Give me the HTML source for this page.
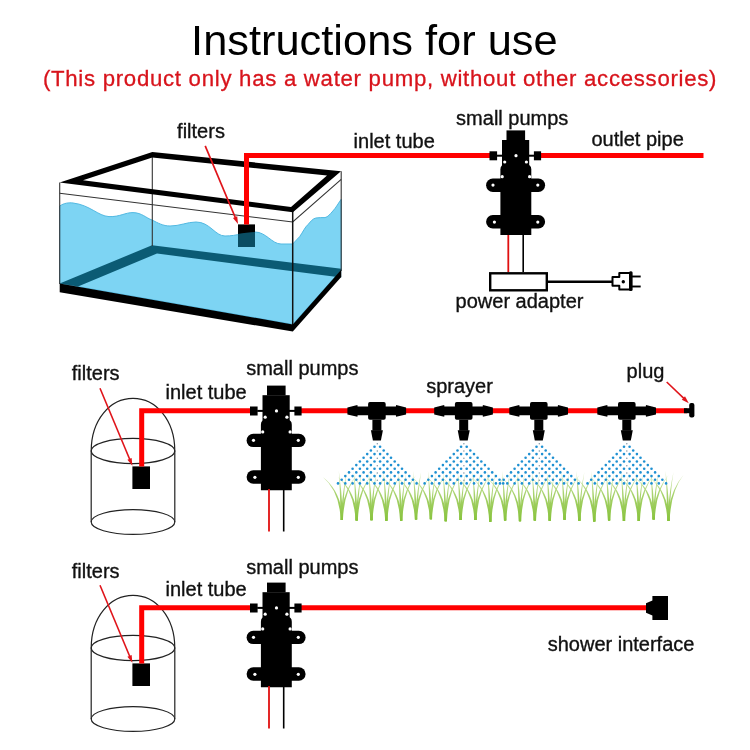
<!DOCTYPE html>
<html><head><meta charset="utf-8"><style>
html,body{margin:0;padding:0;background:#fff;width:750px;height:750px;overflow:hidden;position:relative}
</style></head><body>
<svg width="750" height="750" viewBox="0 0 750 750" style="position:absolute;left:0;top:0">
<defs><linearGradient id="gg" x1="0" y1="470" x2="0" y2="522" gradientUnits="userSpaceOnUse"><stop offset="0" stop-color="#dcecc2"/><stop offset="0.45" stop-color="#a9d36f"/><stop offset="1" stop-color="#86c23a"/></linearGradient></defs>
<path d="M59.7,206 C64,203 69,202.5 73,203 C90,205 98,216 109,216.6 C120,217 125,212.5 133,212.6 C142,212.8 146,218 152,220 C158,223 163,226 170,226 C180,226 187,222 196,222 C210,222 215,236 225,236 C238,236 244,232 255,232 C266,232 272,244 281,244 L292.7,244 L299.6,236.7 C303,232 305,227 308,224.6 C311,221 313,218.5 316,218 C319,217.5 322,217.6 325,217.6 C328,217 330,214 332,212 C336,208 339,202 341.2,199.3 L341.2,270 L292.8,324.4 L59.7,283.4 Z" fill="#7dd4f3" stroke="#52b9e2" stroke-width="1"/>
<path d="M59.7,283.4 L152,245.3 L341.2,268.8 L341.2,277.5 L157,253.5 L78,286.4 Z" fill="#0b5b74"/>
<rect x="238" y="224.4" width="17" height="22.6" fill="#000"/>
<path d="M238,234 C243,233 250,232 255,232 L255,247 L238,247 Z" fill="#0a4d63"/>
<g stroke="#333" stroke-width="1.1" fill="none">
<line x1="59.7" y1="182.5" x2="59.7" y2="284"/>
<line x1="152.3" y1="155" x2="152.3" y2="246"/>
<line x1="341.2" y1="171.3" x2="341.2" y2="271"/>
<polyline points="59.7,193.2 292.7,222 341.2,179.3"/>
</g>
<line x1="292.7" y1="209" x2="292.7" y2="325" stroke="#111" stroke-width="1.5"/>
<path d="M59.7,283.4 L292.8,324.4 L341.2,269.8 L341.2,277 L292.8,331.6 L59.7,292.2 Z" fill="#000"/>
<path fill-rule="evenodd" d="M59.7,182.6 L152.3,152 L341,171.3 L292.9,212.2 Z M83,180.3 L152.3,157.5 L327,175.5 L291,207 Z" fill="#000"/>
<path d="M246.5,224.4 L246.5,155.5 L490,155.5 M540,155.5 L703.5,155.5" stroke="#ff0000" stroke-width="5" fill="none"/>
<line x1="205.2" y1="145.8" x2="235.49" y2="218.01" stroke="#e0141a" stroke-width="1.7"/><path d="M238,224 L232.98,217.97 L237.22,216.19 Z" fill="#e0141a"/>
<g transform="translate(515.7,155.5)"><rect x="-9.2" y="-25.1" width="18.6" height="9.8" fill="#000"/><rect x="-13.7" y="-15.5" width="27.2" height="26" fill="#000"/><path d="M-15.3,79.6 L-15.3,14 Q-15.3,9 -10.3,9 L10.6,9 Q15.6,9 15.6,14 L15.6,79.6 Z" fill="#000"/><rect x="-29.6" y="23" width="59" height="13.4" rx="6.7" fill="#000"/><rect x="-29.6" y="59.6" width="59" height="13.4" rx="6.7" fill="#000"/><rect x="-26.2" y="-4.2" width="7.6" height="9" fill="#000"/><rect x="18.2" y="-4.2" width="7.2" height="9" fill="#000"/><rect x="-19" y="-0.8" width="38" height="2" fill="#000"/><circle cx="0.3" cy="0.2" r="1.6" fill="#fff"/><circle cx="-11" cy="6.5" r="1.6" fill="#fff"/><circle cx="10.7" cy="6.5" r="1.6" fill="#fff"/><circle cx="-13.5" cy="21.2" r="1.6" fill="#fff"/><circle cx="13.9" cy="21.2" r="1.6" fill="#fff"/><circle cx="-22.7" cy="29.6" r="1.6" fill="#fff"/><circle cx="22.1" cy="29.6" r="1.6" fill="#fff"/><circle cx="-21.3" cy="66.6" r="1.6" fill="#fff"/><circle cx="22.1" cy="66.6" r="1.6" fill="#fff"/></g>
<line x1="508.3" y1="235" x2="508.3" y2="272" stroke="#e01010" stroke-width="1.8"/>
<line x1="523.2" y1="235" x2="523.2" y2="272" stroke="#000" stroke-width="1.6"/>
<rect x="490.2" y="273.3" width="56.6" height="17" fill="#fff" stroke="#000" stroke-width="2.4"/>
<line x1="547" y1="281.8" x2="612.5" y2="281.8" stroke="#000" stroke-width="2.6"/>
<path d="M612.5,277 L619.3,277 L619.3,273 L630,273 L630,289.4 L619.3,289.4 L619.3,285.8 L612.5,285.8 Z" fill="#fff" stroke="#000" stroke-width="2" stroke-linejoin="round"/>
<rect x="629" y="271.3" width="3.6" height="19.7" rx="1.5" fill="#000"/>
<line x1="632" y1="276.5" x2="640.7" y2="276.5" stroke="#000" stroke-width="1.9"/>
<line x1="632" y1="286.5" x2="640.7" y2="286.5" stroke="#000" stroke-width="1.9"/>
<circle cx="623.3" cy="281.7" r="1.7" fill="#000"/>
<g transform="translate(0,0)"><g stroke="#222" stroke-width="1.2" fill="none"><path d="M91.2,451 L91.2,522 M174.8,451 L174.8,522"/><path d="M91.2,451 C91.2,420 110,398.4 133,398.4 C156,398.4 174.8,420 174.8,451"/><ellipse cx="133" cy="451" rx="41.8" ry="12.6"/><ellipse cx="133" cy="522" rx="41.8" ry="12.4"/></g><rect x="132.4" y="466.4" width="17.6" height="22.6" fill="#000"/><path d="M141.7,466.4 L141.7,410.7 L251,410.7" stroke="#ff0000" stroke-width="5" fill="none"/><line x1="100" y1="388.3" x2="129.89" y2="459.80" stroke="#e0141a" stroke-width="1.6"/><path d="M132.4,465.8 L127.39,459.77 L131.63,457.99 Z" fill="#e0141a"/></g>
<g transform="translate(0,197)"><g stroke="#222" stroke-width="1.2" fill="none"><path d="M91.2,451 L91.2,522 M174.8,451 L174.8,522"/><path d="M91.2,451 C91.2,420 110,398.4 133,398.4 C156,398.4 174.8,420 174.8,451"/><ellipse cx="133" cy="451" rx="41.8" ry="12.6"/><ellipse cx="133" cy="522" rx="41.8" ry="12.4"/></g><rect x="132.4" y="466.4" width="17.6" height="22.6" fill="#000"/><path d="M141.7,466.4 L141.7,410.7 L251,410.7" stroke="#ff0000" stroke-width="5" fill="none"/><line x1="100" y1="388.3" x2="129.89" y2="459.80" stroke="#e0141a" stroke-width="1.6"/><path d="M132.4,465.8 L127.39,459.77 L131.63,457.99 Z" fill="#e0141a"/></g>
<line x1="301" y1="410.7" x2="687" y2="410.7" stroke="#ff0000" stroke-width="5"/>
<line x1="301" y1="607.7" x2="650" y2="607.7" stroke="#ff0000" stroke-width="5"/>
<g fill="url(#gg)"><path d="M340.7,519.9 Q339.4,491 322.8,477 Q341.2,491 342.9,519.9 Z"/><path d="M340.6,519.9 Q340.3,496 338.8,470.5 Q342.3,496 343.0,519.9 Z"/><path d="M340.7,519.9 Q342.4,491 356.8,475 Q344.2,491 342.9,519.9 Z"/><path d="M340.9,519.9 Q341.9,494 346.8,472 Q343.3,494 342.7,519.9 Z"/><path d="M355.5,520.6 Q354.2,491 337.7,477 Q356.1,491 357.8,520.6 Z"/><path d="M355.5,520.6 Q355.2,496 353.7,470.5 Q357.1,496 357.9,520.6 Z"/><path d="M355.5,520.6 Q357.2,491 371.7,475 Q359.1,491 357.8,520.6 Z"/><path d="M355.8,520.6 Q356.7,494 361.7,472 Q358.2,494 357.6,520.6 Z"/><path d="M370.4,520.2 Q369.1,491 352.5,477 Q370.9,491 372.6,520.2 Z"/><path d="M370.3,520.2 Q370.0,496 368.5,470.5 Q372.0,496 372.7,520.2 Z"/><path d="M370.4,520.2 Q372.1,491 386.5,475 Q373.9,491 372.6,520.2 Z"/><path d="M370.6,520.2 Q371.6,494 376.5,472 Q373.0,494 372.4,520.2 Z"/><path d="M385.2,520.7 Q383.9,491 367.4,477 Q385.8,491 387.5,520.7 Z"/><path d="M385.2,520.7 Q384.9,496 383.4,470.5 Q386.8,496 387.6,520.7 Z"/><path d="M385.2,520.7 Q386.9,491 401.4,475 Q388.8,491 387.5,520.7 Z"/><path d="M385.5,520.7 Q386.4,494 391.4,472 Q387.9,494 387.2,520.7 Z"/><path d="M400.1,520.8 Q398.8,491 382.2,477 Q400.6,491 402.3,520.8 Z"/><path d="M400.0,520.8 Q399.7,496 398.2,470.5 Q401.7,496 402.4,520.8 Z"/><path d="M400.1,520.8 Q401.8,491 416.2,475 Q403.6,491 402.3,520.8 Z"/><path d="M400.3,520.8 Q401.3,494 406.2,472 Q402.7,494 402.1,520.8 Z"/><path d="M414.9,519.5 Q413.6,491 397.1,477 Q415.5,491 417.2,519.5 Z"/><path d="M414.9,519.5 Q414.6,496 413.1,470.5 Q416.5,496 417.2,519.5 Z"/><path d="M414.9,519.5 Q416.6,491 431.1,475 Q418.5,491 417.2,519.5 Z"/><path d="M415.2,519.5 Q416.1,494 421.1,472 Q417.6,494 416.9,519.5 Z"/><path d="M429.8,519.3 Q428.5,491 411.9,477 Q430.3,491 432.0,519.3 Z"/><path d="M429.7,519.3 Q429.4,496 427.9,470.5 Q431.4,496 432.1,519.3 Z"/><path d="M429.8,519.3 Q431.5,491 445.9,475 Q433.3,491 432.0,519.3 Z"/><path d="M430.0,519.3 Q431.0,494 435.9,472 Q432.4,494 431.8,519.3 Z"/><path d="M444.6,521.3 Q443.3,491 426.8,477 Q445.2,491 446.9,521.3 Z"/><path d="M444.6,521.3 Q444.3,496 442.8,470.5 Q446.2,496 446.9,521.3 Z"/><path d="M444.6,521.3 Q446.3,491 460.8,475 Q448.2,491 446.9,521.3 Z"/><path d="M444.9,521.3 Q445.8,494 450.8,472 Q447.3,494 446.6,521.3 Z"/><path d="M459.5,519.9 Q458.2,491 441.6,477 Q460.0,491 461.8,519.9 Z"/><path d="M459.4,519.9 Q459.1,496 457.6,470.5 Q461.1,496 461.8,519.9 Z"/><path d="M459.5,519.9 Q461.2,491 475.6,475 Q463.0,491 461.8,519.9 Z"/><path d="M459.7,519.9 Q460.7,494 465.6,472 Q462.1,494 461.5,519.9 Z"/><path d="M474.3,519.9 Q473.0,491 456.5,477 Q474.9,491 476.6,519.9 Z"/><path d="M474.3,519.9 Q474.0,496 472.5,470.5 Q475.9,496 476.7,519.9 Z"/><path d="M474.3,519.9 Q476.0,491 490.5,475 Q477.9,491 476.6,519.9 Z"/><path d="M474.6,519.9 Q475.5,494 480.5,472 Q477.0,494 476.4,519.9 Z"/><path d="M489.2,521.7 Q487.9,491 471.3,477 Q489.7,491 491.4,521.7 Z"/><path d="M489.1,521.7 Q488.8,496 487.3,470.5 Q490.8,496 491.5,521.7 Z"/><path d="M489.2,521.7 Q490.9,491 505.3,475 Q492.7,491 491.4,521.7 Z"/><path d="M489.4,521.7 Q490.4,494 495.3,472 Q491.8,494 491.2,521.7 Z"/><path d="M504.0,520.4 Q502.7,491 486.1,477 Q504.6,491 506.3,520.4 Z"/><path d="M503.9,520.4 Q503.7,496 502.1,470.5 Q505.6,496 506.3,520.4 Z"/><path d="M504.0,520.4 Q505.7,491 520.1,475 Q507.6,491 506.3,520.4 Z"/><path d="M504.2,520.4 Q505.2,494 510.1,472 Q506.7,494 506.0,520.4 Z"/><path d="M518.9,521.3 Q517.6,491 501.0,477 Q519.4,491 521.1,521.3 Z"/><path d="M518.8,521.3 Q518.5,496 517.0,470.5 Q520.5,496 521.2,521.3 Z"/><path d="M518.9,521.3 Q520.6,491 535.0,475 Q522.4,491 521.1,521.3 Z"/><path d="M519.1,521.3 Q520.1,494 525.0,472 Q521.5,494 520.9,521.3 Z"/><path d="M533.7,520.4 Q532.4,491 515.9,477 Q534.3,491 536.0,520.4 Z"/><path d="M533.6,520.4 Q533.4,496 531.9,470.5 Q535.3,496 536.1,520.4 Z"/><path d="M533.7,520.4 Q535.4,491 549.9,475 Q537.3,491 536.0,520.4 Z"/><path d="M534.0,520.4 Q534.9,494 539.9,472 Q536.4,494 535.8,520.4 Z"/><path d="M548.6,520.8 Q547.3,491 530.7,477 Q549.1,491 550.9,520.8 Z"/><path d="M548.5,520.8 Q548.2,496 546.7,470.5 Q550.2,496 550.9,520.8 Z"/><path d="M548.6,520.8 Q550.3,491 564.7,475 Q552.1,491 550.9,520.8 Z"/><path d="M548.8,520.8 Q549.8,494 554.7,472 Q551.2,494 550.6,520.8 Z"/><path d="M563.4,519.7 Q562.1,491 545.5,477 Q564.0,491 565.7,519.7 Z"/><path d="M563.3,519.7 Q563.1,496 561.5,470.5 Q565.0,496 565.8,519.7 Z"/><path d="M563.4,519.7 Q565.1,491 579.5,475 Q567.0,491 565.7,519.7 Z"/><path d="M563.6,519.7 Q564.6,494 569.5,472 Q566.1,494 565.4,519.7 Z"/><path d="M578.2,520.8 Q577.0,491 560.4,477 Q578.8,491 580.5,520.8 Z"/><path d="M578.2,520.8 Q577.9,496 576.4,470.5 Q579.9,496 580.6,520.8 Z"/><path d="M578.2,520.8 Q580.0,491 594.4,475 Q581.8,491 580.5,520.8 Z"/><path d="M578.5,520.8 Q579.5,494 584.4,472 Q580.9,494 580.3,520.8 Z"/><path d="M593.1,521.4 Q591.8,491 575.2,477 Q593.7,491 595.4,521.4 Z"/><path d="M593.0,521.4 Q592.8,496 591.2,470.5 Q594.7,496 595.5,521.4 Z"/><path d="M593.1,521.4 Q594.8,491 609.2,475 Q596.7,491 595.4,521.4 Z"/><path d="M593.4,521.4 Q594.3,494 599.2,472 Q595.8,494 595.1,521.4 Z"/><path d="M608.0,520.6 Q606.7,491 590.1,477 Q608.5,491 610.2,520.6 Z"/><path d="M607.9,520.6 Q607.6,496 606.1,470.5 Q609.6,496 610.3,520.6 Z"/><path d="M608.0,520.6 Q609.7,491 624.1,475 Q611.5,491 610.2,520.6 Z"/><path d="M608.2,520.6 Q609.2,494 614.1,472 Q610.6,494 610.0,520.6 Z"/><path d="M622.8,521.1 Q621.5,491 605.0,477 Q623.4,491 625.1,521.1 Z"/><path d="M622.8,521.1 Q622.5,496 621.0,470.5 Q624.4,496 625.2,521.1 Z"/><path d="M622.8,521.1 Q624.5,491 639.0,475 Q626.4,491 625.1,521.1 Z"/><path d="M623.1,521.1 Q624.0,494 629.0,472 Q625.5,494 624.9,521.1 Z"/><path d="M637.6,520.9 Q636.4,491 619.8,477 Q638.2,491 639.9,520.9 Z"/><path d="M637.6,520.9 Q637.3,496 635.8,470.5 Q639.3,496 640.0,520.9 Z"/><path d="M637.6,520.9 Q639.4,491 653.8,475 Q641.2,491 639.9,520.9 Z"/><path d="M637.9,520.9 Q638.9,494 643.8,472 Q640.3,494 639.7,520.9 Z"/><path d="M652.5,519.5 Q651.2,491 634.6,477 Q653.1,491 654.8,519.5 Z"/><path d="M652.4,519.5 Q652.2,496 650.6,470.5 Q654.1,496 654.9,519.5 Z"/><path d="M652.5,519.5 Q654.2,491 668.6,475 Q656.1,491 654.8,519.5 Z"/><path d="M652.8,519.5 Q653.7,494 658.6,472 Q655.2,494 654.5,519.5 Z"/><path d="M667.4,521.1 Q666.1,491 649.5,477 Q667.9,491 669.6,521.1 Z"/><path d="M667.3,521.1 Q667.0,496 665.5,470.5 Q669.0,496 669.7,521.1 Z"/><path d="M667.4,521.1 Q669.1,491 683.5,475 Q670.9,491 669.6,521.1 Z"/><path d="M667.6,521.1 Q668.6,494 673.5,472 Q670.0,494 669.4,521.1 Z"/></g>
<g fill="#1e90d2"><circle cx="374.50" cy="446.80" r="1.3"/><circle cx="380.10" cy="446.80" r="1.3"/><circle cx="370.90" cy="450.46" r="1.3"/><circle cx="383.70" cy="450.46" r="1.3"/><circle cx="374.50" cy="454.12" r="1.3"/><circle cx="380.10" cy="454.12" r="1.3"/><circle cx="367.20" cy="454.12" r="1.3"/><circle cx="387.40" cy="454.12" r="1.3"/><circle cx="370.90" cy="457.78" r="1.3"/><circle cx="383.70" cy="457.78" r="1.3"/><circle cx="363.60" cy="457.78" r="1.3"/><circle cx="391.00" cy="457.78" r="1.3"/><circle cx="374.50" cy="461.44" r="1.3"/><circle cx="380.10" cy="461.44" r="1.3"/><circle cx="367.20" cy="461.44" r="1.3"/><circle cx="387.40" cy="461.44" r="1.3"/><circle cx="359.90" cy="461.44" r="1.3"/><circle cx="394.70" cy="461.44" r="1.3"/><circle cx="370.90" cy="465.10" r="1.3"/><circle cx="383.70" cy="465.10" r="1.3"/><circle cx="363.60" cy="465.10" r="1.3"/><circle cx="391.00" cy="465.10" r="1.3"/><circle cx="356.30" cy="465.10" r="1.3"/><circle cx="398.30" cy="465.10" r="1.3"/><circle cx="374.50" cy="468.76" r="1.3"/><circle cx="380.10" cy="468.76" r="1.3"/><circle cx="367.20" cy="468.76" r="1.3"/><circle cx="387.40" cy="468.76" r="1.3"/><circle cx="359.90" cy="468.76" r="1.3"/><circle cx="394.70" cy="468.76" r="1.3"/><circle cx="352.60" cy="468.76" r="1.3"/><circle cx="402.00" cy="468.76" r="1.3"/><circle cx="370.90" cy="472.42" r="1.3"/><circle cx="383.70" cy="472.42" r="1.3"/><circle cx="363.60" cy="472.42" r="1.3"/><circle cx="391.00" cy="472.42" r="1.3"/><circle cx="356.30" cy="472.42" r="1.3"/><circle cx="398.30" cy="472.42" r="1.3"/><circle cx="349.00" cy="472.42" r="1.3"/><circle cx="405.60" cy="472.42" r="1.3"/><circle cx="374.50" cy="476.08" r="1.3"/><circle cx="380.10" cy="476.08" r="1.3"/><circle cx="367.20" cy="476.08" r="1.3"/><circle cx="387.40" cy="476.08" r="1.3"/><circle cx="359.90" cy="476.08" r="1.3"/><circle cx="394.70" cy="476.08" r="1.3"/><circle cx="352.60" cy="476.08" r="1.3"/><circle cx="402.00" cy="476.08" r="1.3"/><circle cx="345.30" cy="476.08" r="1.3"/><circle cx="409.30" cy="476.08" r="1.3"/><circle cx="370.90" cy="479.74" r="1.3"/><circle cx="383.70" cy="479.74" r="1.3"/><circle cx="363.60" cy="479.74" r="1.3"/><circle cx="391.00" cy="479.74" r="1.3"/><circle cx="356.30" cy="479.74" r="1.3"/><circle cx="398.30" cy="479.74" r="1.3"/><circle cx="349.00" cy="479.74" r="1.3"/><circle cx="405.60" cy="479.74" r="1.3"/><circle cx="341.70" cy="479.74" r="1.3"/><circle cx="412.90" cy="479.74" r="1.3"/><circle cx="374.50" cy="483.40" r="1.3"/><circle cx="380.10" cy="483.40" r="1.3"/><circle cx="367.20" cy="483.40" r="1.3"/><circle cx="387.40" cy="483.40" r="1.3"/><circle cx="359.90" cy="483.40" r="1.3"/><circle cx="394.70" cy="483.40" r="1.3"/><circle cx="352.60" cy="483.40" r="1.3"/><circle cx="402.00" cy="483.40" r="1.3"/><circle cx="345.30" cy="483.40" r="1.3"/><circle cx="409.30" cy="483.40" r="1.3"/><circle cx="338.00" cy="483.40" r="1.3"/><circle cx="416.60" cy="483.40" r="1.3"/><circle cx="377.30" cy="443.70" r="0.75" fill="#7d97a8"/><circle cx="377.30" cy="451.02" r="0.75" fill="#7d97a8"/><circle cx="377.30" cy="458.34" r="0.75" fill="#7d97a8"/><circle cx="377.30" cy="465.66" r="0.75" fill="#7d97a8"/><circle cx="377.30" cy="472.98" r="0.75" fill="#7d97a8"/><circle cx="377.30" cy="480.30" r="0.75" fill="#7d97a8"/><circle cx="461.10" cy="446.80" r="1.3"/><circle cx="466.70" cy="446.80" r="1.3"/><circle cx="457.50" cy="450.46" r="1.3"/><circle cx="470.30" cy="450.46" r="1.3"/><circle cx="461.10" cy="454.12" r="1.3"/><circle cx="466.70" cy="454.12" r="1.3"/><circle cx="453.80" cy="454.12" r="1.3"/><circle cx="474.00" cy="454.12" r="1.3"/><circle cx="457.50" cy="457.78" r="1.3"/><circle cx="470.30" cy="457.78" r="1.3"/><circle cx="450.20" cy="457.78" r="1.3"/><circle cx="477.60" cy="457.78" r="1.3"/><circle cx="461.10" cy="461.44" r="1.3"/><circle cx="466.70" cy="461.44" r="1.3"/><circle cx="453.80" cy="461.44" r="1.3"/><circle cx="474.00" cy="461.44" r="1.3"/><circle cx="446.50" cy="461.44" r="1.3"/><circle cx="481.30" cy="461.44" r="1.3"/><circle cx="457.50" cy="465.10" r="1.3"/><circle cx="470.30" cy="465.10" r="1.3"/><circle cx="450.20" cy="465.10" r="1.3"/><circle cx="477.60" cy="465.10" r="1.3"/><circle cx="442.90" cy="465.10" r="1.3"/><circle cx="484.90" cy="465.10" r="1.3"/><circle cx="461.10" cy="468.76" r="1.3"/><circle cx="466.70" cy="468.76" r="1.3"/><circle cx="453.80" cy="468.76" r="1.3"/><circle cx="474.00" cy="468.76" r="1.3"/><circle cx="446.50" cy="468.76" r="1.3"/><circle cx="481.30" cy="468.76" r="1.3"/><circle cx="439.20" cy="468.76" r="1.3"/><circle cx="488.60" cy="468.76" r="1.3"/><circle cx="457.50" cy="472.42" r="1.3"/><circle cx="470.30" cy="472.42" r="1.3"/><circle cx="450.20" cy="472.42" r="1.3"/><circle cx="477.60" cy="472.42" r="1.3"/><circle cx="442.90" cy="472.42" r="1.3"/><circle cx="484.90" cy="472.42" r="1.3"/><circle cx="435.60" cy="472.42" r="1.3"/><circle cx="492.20" cy="472.42" r="1.3"/><circle cx="461.10" cy="476.08" r="1.3"/><circle cx="466.70" cy="476.08" r="1.3"/><circle cx="453.80" cy="476.08" r="1.3"/><circle cx="474.00" cy="476.08" r="1.3"/><circle cx="446.50" cy="476.08" r="1.3"/><circle cx="481.30" cy="476.08" r="1.3"/><circle cx="439.20" cy="476.08" r="1.3"/><circle cx="488.60" cy="476.08" r="1.3"/><circle cx="431.90" cy="476.08" r="1.3"/><circle cx="495.90" cy="476.08" r="1.3"/><circle cx="457.50" cy="479.74" r="1.3"/><circle cx="470.30" cy="479.74" r="1.3"/><circle cx="450.20" cy="479.74" r="1.3"/><circle cx="477.60" cy="479.74" r="1.3"/><circle cx="442.90" cy="479.74" r="1.3"/><circle cx="484.90" cy="479.74" r="1.3"/><circle cx="435.60" cy="479.74" r="1.3"/><circle cx="492.20" cy="479.74" r="1.3"/><circle cx="428.30" cy="479.74" r="1.3"/><circle cx="499.50" cy="479.74" r="1.3"/><circle cx="461.10" cy="483.40" r="1.3"/><circle cx="466.70" cy="483.40" r="1.3"/><circle cx="453.80" cy="483.40" r="1.3"/><circle cx="474.00" cy="483.40" r="1.3"/><circle cx="446.50" cy="483.40" r="1.3"/><circle cx="481.30" cy="483.40" r="1.3"/><circle cx="439.20" cy="483.40" r="1.3"/><circle cx="488.60" cy="483.40" r="1.3"/><circle cx="431.90" cy="483.40" r="1.3"/><circle cx="495.90" cy="483.40" r="1.3"/><circle cx="424.60" cy="483.40" r="1.3"/><circle cx="503.20" cy="483.40" r="1.3"/><circle cx="463.90" cy="443.70" r="0.75" fill="#7d97a8"/><circle cx="463.90" cy="451.02" r="0.75" fill="#7d97a8"/><circle cx="463.90" cy="458.34" r="0.75" fill="#7d97a8"/><circle cx="463.90" cy="465.66" r="0.75" fill="#7d97a8"/><circle cx="463.90" cy="472.98" r="0.75" fill="#7d97a8"/><circle cx="463.90" cy="480.30" r="0.75" fill="#7d97a8"/><circle cx="536.50" cy="446.80" r="1.3"/><circle cx="542.10" cy="446.80" r="1.3"/><circle cx="532.90" cy="450.46" r="1.3"/><circle cx="545.70" cy="450.46" r="1.3"/><circle cx="536.50" cy="454.12" r="1.3"/><circle cx="542.10" cy="454.12" r="1.3"/><circle cx="529.20" cy="454.12" r="1.3"/><circle cx="549.40" cy="454.12" r="1.3"/><circle cx="532.90" cy="457.78" r="1.3"/><circle cx="545.70" cy="457.78" r="1.3"/><circle cx="525.60" cy="457.78" r="1.3"/><circle cx="553.00" cy="457.78" r="1.3"/><circle cx="536.50" cy="461.44" r="1.3"/><circle cx="542.10" cy="461.44" r="1.3"/><circle cx="529.20" cy="461.44" r="1.3"/><circle cx="549.40" cy="461.44" r="1.3"/><circle cx="521.90" cy="461.44" r="1.3"/><circle cx="556.70" cy="461.44" r="1.3"/><circle cx="532.90" cy="465.10" r="1.3"/><circle cx="545.70" cy="465.10" r="1.3"/><circle cx="525.60" cy="465.10" r="1.3"/><circle cx="553.00" cy="465.10" r="1.3"/><circle cx="518.30" cy="465.10" r="1.3"/><circle cx="560.30" cy="465.10" r="1.3"/><circle cx="536.50" cy="468.76" r="1.3"/><circle cx="542.10" cy="468.76" r="1.3"/><circle cx="529.20" cy="468.76" r="1.3"/><circle cx="549.40" cy="468.76" r="1.3"/><circle cx="521.90" cy="468.76" r="1.3"/><circle cx="556.70" cy="468.76" r="1.3"/><circle cx="514.60" cy="468.76" r="1.3"/><circle cx="564.00" cy="468.76" r="1.3"/><circle cx="532.90" cy="472.42" r="1.3"/><circle cx="545.70" cy="472.42" r="1.3"/><circle cx="525.60" cy="472.42" r="1.3"/><circle cx="553.00" cy="472.42" r="1.3"/><circle cx="518.30" cy="472.42" r="1.3"/><circle cx="560.30" cy="472.42" r="1.3"/><circle cx="511.00" cy="472.42" r="1.3"/><circle cx="567.60" cy="472.42" r="1.3"/><circle cx="536.50" cy="476.08" r="1.3"/><circle cx="542.10" cy="476.08" r="1.3"/><circle cx="529.20" cy="476.08" r="1.3"/><circle cx="549.40" cy="476.08" r="1.3"/><circle cx="521.90" cy="476.08" r="1.3"/><circle cx="556.70" cy="476.08" r="1.3"/><circle cx="514.60" cy="476.08" r="1.3"/><circle cx="564.00" cy="476.08" r="1.3"/><circle cx="507.30" cy="476.08" r="1.3"/><circle cx="571.30" cy="476.08" r="1.3"/><circle cx="532.90" cy="479.74" r="1.3"/><circle cx="545.70" cy="479.74" r="1.3"/><circle cx="525.60" cy="479.74" r="1.3"/><circle cx="553.00" cy="479.74" r="1.3"/><circle cx="518.30" cy="479.74" r="1.3"/><circle cx="560.30" cy="479.74" r="1.3"/><circle cx="511.00" cy="479.74" r="1.3"/><circle cx="567.60" cy="479.74" r="1.3"/><circle cx="503.70" cy="479.74" r="1.3"/><circle cx="574.90" cy="479.74" r="1.3"/><circle cx="536.50" cy="483.40" r="1.3"/><circle cx="542.10" cy="483.40" r="1.3"/><circle cx="529.20" cy="483.40" r="1.3"/><circle cx="549.40" cy="483.40" r="1.3"/><circle cx="521.90" cy="483.40" r="1.3"/><circle cx="556.70" cy="483.40" r="1.3"/><circle cx="514.60" cy="483.40" r="1.3"/><circle cx="564.00" cy="483.40" r="1.3"/><circle cx="507.30" cy="483.40" r="1.3"/><circle cx="571.30" cy="483.40" r="1.3"/><circle cx="500.00" cy="483.40" r="1.3"/><circle cx="578.60" cy="483.40" r="1.3"/><circle cx="539.30" cy="443.70" r="0.75" fill="#7d97a8"/><circle cx="539.30" cy="451.02" r="0.75" fill="#7d97a8"/><circle cx="539.30" cy="458.34" r="0.75" fill="#7d97a8"/><circle cx="539.30" cy="465.66" r="0.75" fill="#7d97a8"/><circle cx="539.30" cy="472.98" r="0.75" fill="#7d97a8"/><circle cx="539.30" cy="480.30" r="0.75" fill="#7d97a8"/><circle cx="624.00" cy="446.80" r="1.3"/><circle cx="629.60" cy="446.80" r="1.3"/><circle cx="620.40" cy="450.46" r="1.3"/><circle cx="633.20" cy="450.46" r="1.3"/><circle cx="624.00" cy="454.12" r="1.3"/><circle cx="629.60" cy="454.12" r="1.3"/><circle cx="616.70" cy="454.12" r="1.3"/><circle cx="636.90" cy="454.12" r="1.3"/><circle cx="620.40" cy="457.78" r="1.3"/><circle cx="633.20" cy="457.78" r="1.3"/><circle cx="613.10" cy="457.78" r="1.3"/><circle cx="640.50" cy="457.78" r="1.3"/><circle cx="624.00" cy="461.44" r="1.3"/><circle cx="629.60" cy="461.44" r="1.3"/><circle cx="616.70" cy="461.44" r="1.3"/><circle cx="636.90" cy="461.44" r="1.3"/><circle cx="609.40" cy="461.44" r="1.3"/><circle cx="644.20" cy="461.44" r="1.3"/><circle cx="620.40" cy="465.10" r="1.3"/><circle cx="633.20" cy="465.10" r="1.3"/><circle cx="613.10" cy="465.10" r="1.3"/><circle cx="640.50" cy="465.10" r="1.3"/><circle cx="605.80" cy="465.10" r="1.3"/><circle cx="647.80" cy="465.10" r="1.3"/><circle cx="624.00" cy="468.76" r="1.3"/><circle cx="629.60" cy="468.76" r="1.3"/><circle cx="616.70" cy="468.76" r="1.3"/><circle cx="636.90" cy="468.76" r="1.3"/><circle cx="609.40" cy="468.76" r="1.3"/><circle cx="644.20" cy="468.76" r="1.3"/><circle cx="602.10" cy="468.76" r="1.3"/><circle cx="651.50" cy="468.76" r="1.3"/><circle cx="620.40" cy="472.42" r="1.3"/><circle cx="633.20" cy="472.42" r="1.3"/><circle cx="613.10" cy="472.42" r="1.3"/><circle cx="640.50" cy="472.42" r="1.3"/><circle cx="605.80" cy="472.42" r="1.3"/><circle cx="647.80" cy="472.42" r="1.3"/><circle cx="598.50" cy="472.42" r="1.3"/><circle cx="655.10" cy="472.42" r="1.3"/><circle cx="624.00" cy="476.08" r="1.3"/><circle cx="629.60" cy="476.08" r="1.3"/><circle cx="616.70" cy="476.08" r="1.3"/><circle cx="636.90" cy="476.08" r="1.3"/><circle cx="609.40" cy="476.08" r="1.3"/><circle cx="644.20" cy="476.08" r="1.3"/><circle cx="602.10" cy="476.08" r="1.3"/><circle cx="651.50" cy="476.08" r="1.3"/><circle cx="594.80" cy="476.08" r="1.3"/><circle cx="658.80" cy="476.08" r="1.3"/><circle cx="620.40" cy="479.74" r="1.3"/><circle cx="633.20" cy="479.74" r="1.3"/><circle cx="613.10" cy="479.74" r="1.3"/><circle cx="640.50" cy="479.74" r="1.3"/><circle cx="605.80" cy="479.74" r="1.3"/><circle cx="647.80" cy="479.74" r="1.3"/><circle cx="598.50" cy="479.74" r="1.3"/><circle cx="655.10" cy="479.74" r="1.3"/><circle cx="591.20" cy="479.74" r="1.3"/><circle cx="662.40" cy="479.74" r="1.3"/><circle cx="624.00" cy="483.40" r="1.3"/><circle cx="629.60" cy="483.40" r="1.3"/><circle cx="616.70" cy="483.40" r="1.3"/><circle cx="636.90" cy="483.40" r="1.3"/><circle cx="609.40" cy="483.40" r="1.3"/><circle cx="644.20" cy="483.40" r="1.3"/><circle cx="602.10" cy="483.40" r="1.3"/><circle cx="651.50" cy="483.40" r="1.3"/><circle cx="594.80" cy="483.40" r="1.3"/><circle cx="658.80" cy="483.40" r="1.3"/><circle cx="587.50" cy="483.40" r="1.3"/><circle cx="666.10" cy="483.40" r="1.3"/><circle cx="626.80" cy="443.70" r="0.75" fill="#7d97a8"/><circle cx="626.80" cy="451.02" r="0.75" fill="#7d97a8"/><circle cx="626.80" cy="458.34" r="0.75" fill="#7d97a8"/><circle cx="626.80" cy="465.66" r="0.75" fill="#7d97a8"/><circle cx="626.80" cy="472.98" r="0.75" fill="#7d97a8"/><circle cx="626.80" cy="480.30" r="0.75" fill="#7d97a8"/></g>
<g transform="translate(376.9,410.7)" fill="#000"><rect x="-8.8" y="-8.6" width="17.6" height="17.7" rx="1.8"/><path d="M-29.5,-3.1 L-19.5,-5.6 L-19.3,-4.2 L-8,-4.2 L-8,4.5 L-19.3,4.5 L-19.5,6.1 L-29.5,3.7 Z"/><path d="M29.2,-3.1 L19.2,-5.6 L19,-4.2 L8,-4.2 L8,4.5 L19,4.5 L19.2,6.1 L29.2,3.7 Z"/><rect x="-4.5" y="9" width="9" height="11"/><path d="M-6,19.6 L6,19.6 L4,29.8 L-4,29.8 Z"/></g>
<g transform="translate(463.7,410.7)" fill="#000"><rect x="-8.8" y="-8.6" width="17.6" height="17.7" rx="1.8"/><path d="M-29.5,-3.1 L-19.5,-5.6 L-19.3,-4.2 L-8,-4.2 L-8,4.5 L-19.3,4.5 L-19.5,6.1 L-29.5,3.7 Z"/><path d="M29.2,-3.1 L19.2,-5.6 L19,-4.2 L8,-4.2 L8,4.5 L19,4.5 L19.2,6.1 L29.2,3.7 Z"/><rect x="-4.5" y="9" width="9" height="11"/><path d="M-6,19.6 L6,19.6 L4,29.8 L-4,29.8 Z"/></g>
<g transform="translate(538.8,410.7)" fill="#000"><rect x="-8.8" y="-8.6" width="17.6" height="17.7" rx="1.8"/><path d="M-29.5,-3.1 L-19.5,-5.6 L-19.3,-4.2 L-8,-4.2 L-8,4.5 L-19.3,4.5 L-19.5,6.1 L-29.5,3.7 Z"/><path d="M29.2,-3.1 L19.2,-5.6 L19,-4.2 L8,-4.2 L8,4.5 L19,4.5 L19.2,6.1 L29.2,3.7 Z"/><rect x="-4.5" y="9" width="9" height="11"/><path d="M-6,19.6 L6,19.6 L4,29.8 L-4,29.8 Z"/></g>
<g transform="translate(626.8,410.7)" fill="#000"><rect x="-8.8" y="-8.6" width="17.6" height="17.7" rx="1.8"/><path d="M-29.5,-3.1 L-19.5,-5.6 L-19.3,-4.2 L-8,-4.2 L-8,4.5 L-19.3,4.5 L-19.5,6.1 L-29.5,3.7 Z"/><path d="M29.2,-3.1 L19.2,-5.6 L19,-4.2 L8,-4.2 L8,4.5 L19,4.5 L19.2,6.1 L29.2,3.7 Z"/><rect x="-4.5" y="9" width="9" height="11"/><path d="M-6,19.6 L6,19.6 L4,29.8 L-4,29.8 Z"/></g>
<rect x="684" y="408.2" width="6" height="5" fill="#000"/>
<rect x="689.2" y="402.9" width="5.2" height="14.7" rx="2" fill="#000"/>
<line x1="666.7" y1="382" x2="684.11" y2="398.70" stroke="#e0141a" stroke-width="1.6"/><path d="M688.8,403.2 L681.80,399.67 L684.98,396.35 Z" fill="#e0141a"/>
<g transform="translate(276.2,410.7)"><rect x="-9.2" y="-25.1" width="18.6" height="9.8" fill="#000"/><rect x="-13.7" y="-15.5" width="27.2" height="26" fill="#000"/><path d="M-15.3,79.6 L-15.3,14 Q-15.3,9 -10.3,9 L10.6,9 Q15.6,9 15.6,14 L15.6,79.6 Z" fill="#000"/><rect x="-29.6" y="23" width="59" height="13.4" rx="6.7" fill="#000"/><rect x="-29.6" y="59.6" width="59" height="13.4" rx="6.7" fill="#000"/><rect x="-26.2" y="-4.2" width="7.6" height="9" fill="#000"/><rect x="18.2" y="-4.2" width="7.2" height="9" fill="#000"/><rect x="-19" y="-0.8" width="38" height="2" fill="#000"/><circle cx="0.3" cy="0.2" r="1.6" fill="#fff"/><circle cx="-11" cy="6.5" r="1.6" fill="#fff"/><circle cx="10.7" cy="6.5" r="1.6" fill="#fff"/><circle cx="-13.5" cy="21.2" r="1.6" fill="#fff"/><circle cx="13.9" cy="21.2" r="1.6" fill="#fff"/><circle cx="-22.7" cy="29.6" r="1.6" fill="#fff"/><circle cx="22.1" cy="29.6" r="1.6" fill="#fff"/><circle cx="-21.3" cy="66.6" r="1.6" fill="#fff"/><circle cx="22.1" cy="66.6" r="1.6" fill="#fff"/></g>
<g transform="translate(276.2,607.7)"><rect x="-9.2" y="-25.1" width="18.6" height="9.8" fill="#000"/><rect x="-13.7" y="-15.5" width="27.2" height="26" fill="#000"/><path d="M-15.3,79.6 L-15.3,14 Q-15.3,9 -10.3,9 L10.6,9 Q15.6,9 15.6,14 L15.6,79.6 Z" fill="#000"/><rect x="-29.6" y="23" width="59" height="13.4" rx="6.7" fill="#000"/><rect x="-29.6" y="59.6" width="59" height="13.4" rx="6.7" fill="#000"/><rect x="-26.2" y="-4.2" width="7.6" height="9" fill="#000"/><rect x="18.2" y="-4.2" width="7.2" height="9" fill="#000"/><rect x="-19" y="-0.8" width="38" height="2" fill="#000"/><circle cx="0.3" cy="0.2" r="1.6" fill="#fff"/><circle cx="-11" cy="6.5" r="1.6" fill="#fff"/><circle cx="10.7" cy="6.5" r="1.6" fill="#fff"/><circle cx="-13.5" cy="21.2" r="1.6" fill="#fff"/><circle cx="13.9" cy="21.2" r="1.6" fill="#fff"/><circle cx="-22.7" cy="29.6" r="1.6" fill="#fff"/><circle cx="22.1" cy="29.6" r="1.6" fill="#fff"/><circle cx="-21.3" cy="66.6" r="1.6" fill="#fff"/><circle cx="22.1" cy="66.6" r="1.6" fill="#fff"/></g>
<line x1="269" y1="489" x2="269" y2="531.5" stroke="#e01010" stroke-width="1.8"/>
<line x1="283.7" y1="489" x2="283.7" y2="531.5" stroke="#000" stroke-width="1.6"/>
<line x1="269" y1="686" x2="269" y2="728.5" stroke="#e01010" stroke-width="1.8"/>
<line x1="283.7" y1="686" x2="283.7" y2="728.5" stroke="#000" stroke-width="1.6"/>
<path d="M646,603.2 L652.4,600.4 L652.4,596 L668,596 L668,620 L652.4,620 L652.4,615.6 L646,612.8 Z" fill="#000"/>
<g font-family="Liberation Sans, sans-serif" style="will-change:transform">
<text x="191.1" y="54.7" font-size="43.4" fill="#000">Instructions for use</text>
<text x="42.9" y="86" font-size="22.2" letter-spacing="0.72" fill="#d8141c" stroke="#d8141c" stroke-width="0.3">(This product only has a water pump, without other accessories)</text>
<text x="177.1" y="137.5" font-size="20" fill="#111" stroke="#111" stroke-width="0.35">filters</text>
<text x="353.6" y="147.9" font-size="20" fill="#111" stroke="#111" stroke-width="0.35">inlet tube</text>
<text x="456.1" y="124.9" font-size="20" fill="#111" stroke="#111" stroke-width="0.35">small pumps</text>
<text x="591.5" y="145.6" font-size="20" fill="#111" stroke="#111" stroke-width="0.35">outlet pipe</text>
<text x="455.6" y="308.4" font-size="20" fill="#111" stroke="#111" stroke-width="0.35">power adapter</text>
<text x="71.8" y="380.3" font-size="20" fill="#111" stroke="#111" stroke-width="0.35">filters</text>
<text x="165.5" y="399.3" font-size="20" fill="#111" stroke="#111" stroke-width="0.35">inlet tube</text>
<text x="246.2" y="374.5" font-size="20" fill="#111" stroke="#111" stroke-width="0.35">small pumps</text>
<text x="426.2" y="392.6" font-size="20" fill="#111" stroke="#111" stroke-width="0.35">sprayer</text>
<text x="626.6" y="377.5" font-size="20" fill="#111" stroke="#111" stroke-width="0.35">plug</text>
<text x="71.8" y="577.8" font-size="20" fill="#111" stroke="#111" stroke-width="0.35">filters</text>
<text x="165.5" y="596.2" font-size="20" fill="#111" stroke="#111" stroke-width="0.35">inlet tube</text>
<text x="246.2" y="574" font-size="20" fill="#111" stroke="#111" stroke-width="0.35">small pumps</text>
<text x="547.7" y="651.2" font-size="20" fill="#111" stroke="#111" stroke-width="0.35">shower interface</text>
</g>
</svg>
</body></html>
